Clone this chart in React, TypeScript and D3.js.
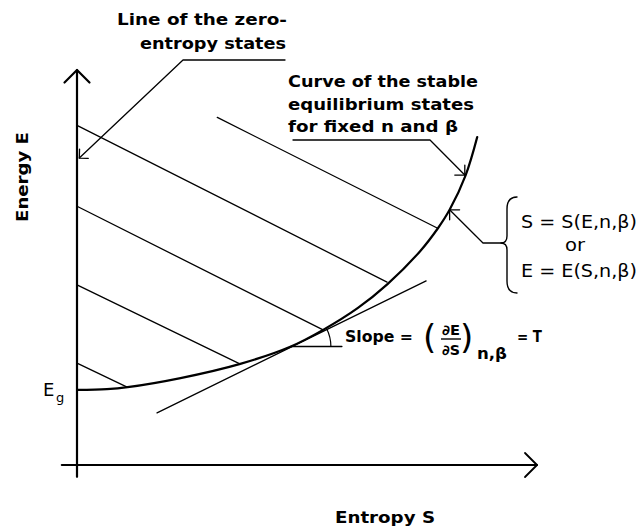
import React from "react";
import * as d3 from "d3";

// stable equilibrium curve E(S) for fixed n and beta (arbitrary units)
const curveS = [0, 0.65, 1.1, 2.25, 3.55, 4.65, 5.35, 6.1, 6.75, 7.45, 7.85, 8.1, 8.45, 8.7];
const curveE = [1.9, 1.92, 1.97, 2.2, 2.56, 3.0, 3.42, 3.97, 4.58, 5.4, 6.0, 6.46, 7.34, 8.3];

// parallel lines ending on the curve
const segStartS = [0, 0, 0, 0, 3.05];
const segStartE = [8.6, 6.55, 4.56, 2.58, 8.8];
const segEndS = [6.74, 5.35, 3.54, 1.09, 7.83];
const segEndE = [4.63, 3.42, 2.56, 1.97, 6.0];

// tangent to the curve
const tangentS = [1.74, 7.59];
const tangentE = [1.32, 4.66];
const tangentPoint = { s: 4.65, e: 3.0 };

const W = 640;
const H = 529;
const FONT = "'DejaVu Sans', Verdana, sans-serif";

const x = d3.scaleLinear().domain([0, 10]).range([77, 537]);
const y = d3.scaleLinear().domain([0, 10]).range([465, 70]);

// open arrowhead at (tx,ty) coming from (fx,fy)
function arrowHead(fx: number, fy: number, tx: number, ty: number, len = 10, ang = Math.PI / 4) {
  const a = Math.atan2(fy - ty, fx - tx);
  const p1 = [tx + len * Math.cos(a + ang), ty + len * Math.sin(a + ang)];
  const p2 = [tx + len * Math.cos(a - ang), ty + len * Math.sin(a - ang)];
  return `M${p1[0]},${p1[1]}L${tx},${ty}L${p2[0]},${p2[1]}`;
}

const App = () => {
  const pts: [number, number][] = curveS.map((s, i) => [x(s), y(curveE[i])]);
  const curvePath = d3.line().curve(d3.curveCatmullRom.alpha(0.5))(pts) || "";

  const ox = x(0);
  const oy = y(0);
  const topY = y(10);
  const rightX = x(10);

  // slope marker
  const cx = x(tangentPoint.s);
  const cy = y(tangentPoint.e);
  const tanAng = Math.atan2(y(tangentE[1]) - y(tangentE[0]), x(tangentS[1]) - x(tangentS[0]));
  const r = 40;
  const arcPath = d3.arc()({
    innerRadius: r,
    outerRadius: r,
    startAngle: Math.PI / 2 + tanAng,
    endAngle: Math.PI / 2,
  } as any) || "";

  // annotation tips
  const tip1 = [x(0.05), y(7.77)];
  const tip2 = [x(8.43), y(7.34)];
  const tip3 = [x(8.1), y(6.46)];

  return (
    <svg width={W} height={H} style={{ position: "absolute", left: 0, top: 0, background: "#fff" }}>
      <g fill="none" stroke="#000" strokeLinecap="round" strokeLinejoin="round">
        {/* axes */}
        <line x1={ox} y1={y(-0.3)} x2={ox} y2={topY} strokeWidth={2.2} />
        <line x1={x(-0.33)} y1={oy} x2={rightX} y2={oy} strokeWidth={2.2} />
        <path d={`M${ox - 12.5},${topY + 12.5}L${ox},${topY}L${ox + 12.5},${topY + 12.5}`} strokeWidth={2.2} />
        <path d={`M${rightX - 12},${oy - 12}L${rightX},${oy}L${rightX - 12},${oy + 12}`} strokeWidth={1.8} />

        {/* parallel lines */}
        {segStartS.map((s, i) => (
          <line key={i} x1={x(s)} y1={y(segStartE[i])} x2={x(segEndS[i])} y2={y(segEndE[i])} strokeWidth={1.3} />
        ))}

        {/* tangent */}
        <line x1={x(tangentS[0])} y1={y(tangentE[0])} x2={x(tangentS[1])} y2={y(tangentE[1])} strokeWidth={1.3} />

        {/* curve */}
        <path d={curvePath} strokeWidth={2.2} />

        {/* slope marker */}
        <line x1={cx} y1={cy} x2={cx + 51} y2={cy} strokeWidth={1.3} />
        <path d={arcPath} transform={`translate(${cx},${cy})`} strokeWidth={1.2} />

        {/* leader: zero-entropy line */}
        <path d={`M285,60L183,60L${tip1[0]},${tip1[1]}`} strokeWidth={1.3} />
        <path d={arrowHead(183, 60, tip1[0], tip1[1], 9)} strokeWidth={1.3} />

        {/* leader: stable equilibrium curve */}
        <path d={`M293,140L430,140L${tip2[0]},${tip2[1]}`} strokeWidth={1.3} />
        <path d={arrowHead(430, 140, tip2[0], tip2[1], 10)} strokeWidth={1.3} />

        {/* leader: brace */}
        <path d={`M503,243L483,243L${tip3[0]},${tip3[1]}`} strokeWidth={1.3} />
        <path d={arrowHead(483, 243, tip3[0], tip3[1], 10)} strokeWidth={1.3} />

        {/* brace */}
        <path
          d="M517,197 Q507,197 507,209 L507,236 Q507,243 501,243 Q507,243 507,250 L507,281 Q507,293 517,293"
          strokeWidth={1.4}
        />
      </g>

      <g fontFamily={FONT} fontWeight="bold" fontSize={16} fill="#000">
        <text x={117} y={25} textLength={170} lengthAdjust="spacingAndGlyphs">Line of the zero-</text>
        <text x={140} y={49} textLength={146} lengthAdjust="spacingAndGlyphs">entropy states</text>

        <text x={288} y={87} textLength={190} lengthAdjust="spacingAndGlyphs">Curve of the stable</text>
        <text x={288} y={110} textLength={186} lengthAdjust="spacingAndGlyphs">equilibrium states</text>
        <text x={288} y={132} textLength={170} lengthAdjust="spacingAndGlyphs">for fixed n and β</text>

        <text x={345} y={342} textLength={68} lengthAdjust="spacingAndGlyphs">Slope =</text>
        <text x={442} y={335} fontSize={14} textLength={18} lengthAdjust="spacingAndGlyphs">∂E</text>
        <text x={442} y={355} fontSize={14} textLength={18} lengthAdjust="spacingAndGlyphs">∂S</text>
        <text x={477} y={359} fontSize={15} textLength={30} lengthAdjust="spacingAndGlyphs">n,β</text>
        <text x={517} y={342} textLength={25} lengthAdjust="spacingAndGlyphs">= T</text>
        <text x={423} y={349} fontSize={34} fontWeight="normal">(</text>
        <text x={460} y={349} fontSize={34} fontWeight="normal">)</text>

        <text x={335} y={523} textLength={100} lengthAdjust="spacingAndGlyphs">Entropy S</text>
        <text
          transform="translate(28,222) rotate(-90)"
          x={0}
          y={0}
          textLength={90}
          lengthAdjust="spacingAndGlyphs"
        >
          Energy E
        </text>
      </g>
      <line x1={441} y1={339} x2={461} y2={339} stroke="#000" strokeWidth={1.4} />

      <g fontFamily={FONT} fontSize={17} fill="#000">
        <text x={521} y={228} textLength={116} lengthAdjust="spacingAndGlyphs">S = S(E,n,β)</text>
        <text x={565} y={251} textLength={20} lengthAdjust="spacingAndGlyphs">or</text>
        <text x={521} y={277} textLength={116} lengthAdjust="spacingAndGlyphs">E = E(S,n,β)</text>
        <text x={43} y={396} fontSize={18}>E</text>
        <text x={56} y={402} fontSize={13}>g</text>
      </g>
    </svg>
  );
};

export default App;
